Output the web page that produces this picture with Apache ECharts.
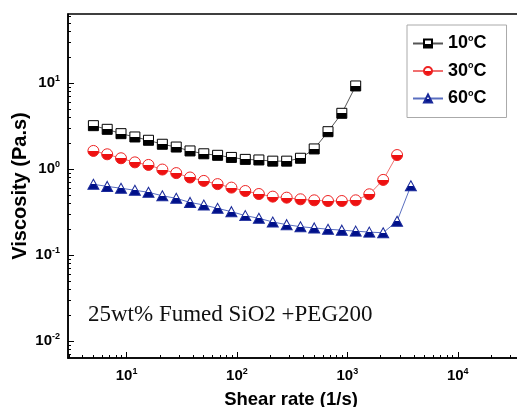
<!DOCTYPE html>
<html>
<head>
<meta charset="utf-8">
<script src="https://cdn.jsdelivr.net/npm/echarts@6/dist/echarts.min.js"></script>
<style>
  html, body { margin: 0; padding: 0; background: #fff; }
  #main { width: 517px; height: 407px; }
</style>
</head>
<body>
<div id="main"></div>
<script>
// shear rate (1/s), shared by all three curves
var shearRate = [5.01, 6.68, 8.91, 11.9, 15.8, 21.1, 28.2, 37.6, 50.1, 66.8, 89.1, 119,
  158, 211, 282, 376, 501, 668, 891, 1190, 1580, 2110, 2820, 3760];

// viscosity (Pa.s)
var visc10 = [3.21, 2.91, 2.59, 2.37, 2.17, 1.95, 1.81, 1.63, 1.51, 1.45, 1.37, 1.30,
  1.28, 1.24, 1.24, 1.34, 1.72, 2.73, 4.47, 9.3];
var visc30 = [1.63, 1.49, 1.34, 1.20, 1.12, 0.99, 0.90, 0.80, 0.73, 0.67, 0.61, 0.557,
  0.514, 0.479, 0.466, 0.446, 0.434, 0.426, 0.426, 0.434, 0.51, 0.75, 1.46];
var visc60 = [0.667, 0.63, 0.60, 0.568, 0.538, 0.49, 0.458, 0.41, 0.383, 0.35, 0.32, 0.288,
  0.268, 0.243, 0.226, 0.214, 0.207, 0.200, 0.195, 0.190, 0.185, 0.182, 0.248, 0.64];

var seriesNames = ['10°C', '30°C', '60°C'];
var annotation = '25wt% Fumed SiO2 +PEG200';

// tick labels (decades) and minor ticks
var xTickLabels = [10, 100, 1000, 10000];
var yTickLabels = [0.01, 0.1, 1, 10];
var xMinorTicks = [3, 4, 5, 6, 7, 8, 9, 20, 30, 40, 50, 60, 70, 80, 90,
  200, 300, 400, 500, 600, 700, 800, 900, 2000, 3000, 4000, 5000, 6000, 7000, 8000, 9000, 20000, 30000];
var yMinorTicks = [0.007, 0.008, 0.009, 0.02, 0.03, 0.04, 0.05, 0.06, 0.07, 0.08, 0.09,
  0.2, 0.3, 0.4, 0.5, 0.6, 0.7, 0.8, 0.9, 2, 3, 4, 5, 6, 7, 8, 9, 20, 30, 40, 50, 60];

function pairs(ys) {
  return ys.map(function (v, i) { return [shearRate[i], v]; });
}

// top half white, bottom half coloured
function half(c) {
  return {
    type: 'linear', x: 0, y: 0, x2: 0, y2: 1,
    colorStops: [
      { offset: 0, color: '#fff' }, { offset: 0.5, color: '#fff' },
      { offset: 0.5, color: c }, { offset: 1, color: c }
    ]
  };
}

function powLabel(v) {
  var e = Math.round(Math.log10(v));
  return '{b|10}{s|' + e + '}';
}

var sans = "Arial, 'Liberation Sans', sans-serif";
var labelRich = {
  b: { fontFamily: sans, fontWeight: 'bold', fontSize: 15, color: '#000', lineHeight: 18 },
  s: { fontFamily: sans, fontWeight: 'bold', fontSize: 9, color: '#000', verticalAlign: 'top', lineHeight: 18 }
};

var xMin = 2.95, xMax = 39800, yMin = 0.00634, yMax = 64;

var chart = echarts.init(document.getElementById('main'));
chart.setOption({
  animation: false,
  backgroundColor: '#fff',
  grid: {
    left: 68, top: 14, right: -7, bottom: 49, outerBoundsMode: 'none',
    show: true, borderColor: '#000', borderWidth: 1.5
  },
  legend: {
    left: 407, top: 25, orient: 'vertical',
    itemWidth: 30, itemHeight: 10, itemGap: 9,
    padding: [9, 20, 10, 5],
    borderColor: '#aaa', borderWidth: 1,
    data: seriesNames,
    formatter: function (n) { return '{t|' + n.replace('°C', '') + '}{o|o}{t|C}'; },
    textStyle: {
      rich: {
        t: { fontFamily: sans, fontWeight: 'bold', fontSize: 18, color: '#000', lineHeight: 19 },
        o: { fontFamily: sans, fontWeight: 'bold', fontSize: 9, color: '#000', verticalAlign: 'top', lineHeight: 19 }
      }
    }
  },
  xAxis: [{
    type: 'log', min: xMin, max: xMax,
    name: 'Shear rate (1/s)', nameLocation: 'middle', nameGap: 32,
    nameTextStyle: { fontFamily: sans, fontWeight: 'bold', fontSize: 18.5, color: '#000', padding: [0, 10, 0, 0] },
    axisLine: { lineStyle: { color: '#000', width: 1.5 } },
    axisTick: { inside: true, length: 6, customValues: xTickLabels, lineStyle: { color: '#000', width: 1 } },
    axisLabel: { customValues: xTickLabels, formatter: powLabel, rich: labelRich, margin: 9 },
    splitLine: { show: false }
  }, {
    type: 'log', min: xMin, max: xMax, position: 'bottom', offset: 0,
    axisLine: { show: false },
    axisTick: { inside: true, length: 3, customValues: xMinorTicks, lineStyle: { color: '#000', width: 1 } },
    axisLabel: { show: false },
    splitLine: { show: false }
  }],
  yAxis: [{
    type: 'log', min: yMin, max: yMax,
    name: 'Viscosity (Pa.s)', nameLocation: 'middle', nameGap: 38, nameMoveOverlap: false,
    nameTextStyle: { fontFamily: sans, fontWeight: 'bold', fontSize: 20, color: '#000' },
    axisLine: { lineStyle: { color: '#000', width: 1.5 } },
    axisTick: { inside: true, length: 6, customValues: yTickLabels, lineStyle: { color: '#000', width: 1 } },
    axisLabel: { customValues: yTickLabels, formatter: powLabel, rich: labelRich, margin: 8 },
    splitLine: { show: false }
  }, {
    type: 'log', min: yMin, max: yMax, position: 'left', offset: 0,
    axisLine: { show: false },
    axisTick: { inside: true, length: 3, customValues: yMinorTicks, lineStyle: { color: '#000', width: 1 } },
    axisLabel: { show: false },
    splitLine: { show: false }
  }],
  graphic: [{
    type: 'text', left: 88, top: 303,
    style: { text: annotation, font: "23px 'Liberation Serif', 'Times New Roman', serif", fill: '#111' }
  }],
  series: [{
    name: seriesNames[0], type: 'line', data: pairs(visc10),
    symbol: 'rect', symbolSize: 10,
    lineStyle: { color: '#555', width: 1 },
    itemStyle: { color: half('#000'), borderColor: '#000', borderWidth: 1 }
  }, {
    name: seriesNames[1], type: 'line', data: pairs(visc30),
    symbol: 'circle', symbolSize: 11,
    lineStyle: { color: '#f07070', width: 1 },
    itemStyle: { color: half('#ee1111'), borderColor: '#ee2222', borderWidth: 1 }
  }, {
    name: seriesNames[2], type: 'line', data: pairs(visc60),
    symbol: 'triangle', symbolSize: [11, 10],
    lineStyle: { color: '#5a6fc0', width: 1 },
    itemStyle: { color: half('#00108a'), borderColor: '#1a2a9a', borderWidth: 1 }
  }]
});
</script>
</body>
</html>
